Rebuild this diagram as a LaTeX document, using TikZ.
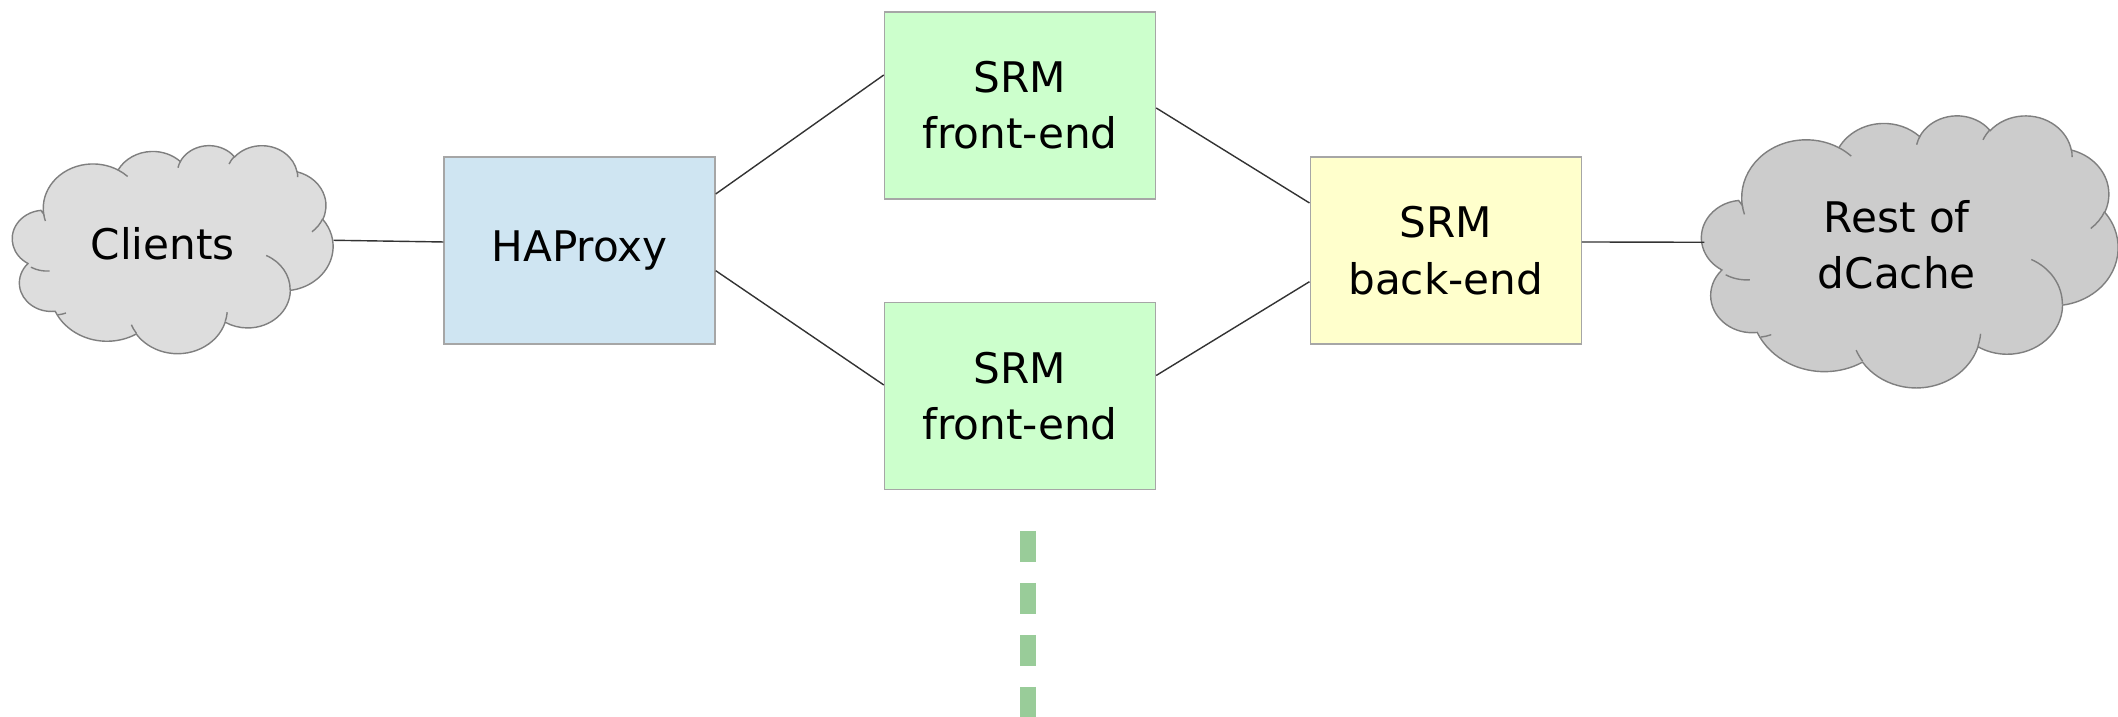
\documentclass[tikz,border=0pt]{standalone}
\usepackage{fontspec}
\setmainfont{DejaVu Sans}
\usepackage{tikz}
\usetikzlibrary{positioning}

\definecolor{proxyblue}{HTML}{CFE5F2}
\definecolor{frontgreen}{HTML}{CCFFCC}
\definecolor{backyellow}{HTML}{FFFFCC}
\definecolor{cloudlight}{HTML}{DDDDDD}
\definecolor{clouddark}{HTML}{CCCCCC}
\definecolor{cloudline}{HTML}{7F7F7F}
\definecolor{dashgreen}{HTML}{99CC99}

% elliptic arc given by radii, start angle and sweep (office style)
\newcommand\ooarc[4]{%
  \pgfmathsetmacro\oots{atan2((#1)*sin(#3),(#2)*cos(#3))}%
  \pgfmathsetmacro\oote{atan2((#1)*sin((#3)+(#4)),(#2)*cos((#3)+(#4)))}%
  \pgfmathsetmacro\ood{\oote-\oots}%
  \pgfmathsetmacro\ood{\ood+360*((#4)>0)*(\ood<=0)-360*((#4)<0)*(\ood>=0)}%
  \pgfmathsetmacro\ooe{\oots+\ood}%
  \pgfpatharc{\oots}{\ooe}{#1cm and #2cm}}
\newcommand\ooseg[6]{%
  \pgfpathmoveto{\pgfpointxy{#1}{#2}}\ooarc{#3}{#4}{#5}{#6}}

% cloud in a 43.2 x 43.2 box, y going down
\newcommand\cloudoutline{%
  \pgfpathmoveto{\pgfpointxy{3.9}{14.37}}%
  \ooarc{6.753}{9.190}{-190.4875}{123.7805}%
  \ooarc{5.333}{7.267}{-144.1024}{89.9452}%
  \ooarc{4.365}{5.945}{-145.8079}{99.7230}%
  \ooarc{4.857}{6.595}{-130.9861}{117.2417}%
  \ooarc{5.333}{7.273}{-78.7089}{109.0269}%
  \ooarc{6.775}{9.220}{-46.2673}{130.2690}%
  \ooarc{5.785}{7.867}{0.6250}{114.0333}%
  \ooarc{6.752}{9.215}{22.4516}{115.1726}%
  \ooarc{7.720}{10.543}{66.2426}{82.2745}%
  \ooarc{4.360}{5.918}{-274.9421}{146.7356}%
  \ooarc{4.345}{5.945}{-246.8285}{152.5189}%
  \pgfpathclose}
\newcommand\cloudcreases{%
  \ooseg{4.693}{26.177}{4.345}{5.945}{86.7420}{26.4295}%
  \ooseg{6.928}{34.899}{4.360}{5.918}{73.6105}{11.4475}%
  \ooseg{16.478}{39.090}{6.752}{9.215}{137.6242}{14.0811}%
  \ooseg{28.827}{34.751}{6.752}{9.215}{6.4533}{15.9984}%
  \ooseg{34.129}{22.954}{5.785}{7.867}{-70.2924}{70.9174}%
  \ooseg{41.798}{15.354}{5.333}{7.273}{30.3180}{27.7515}%
  \ooseg{38.324}{5.426}{4.857}{6.595}{-13.7443}{14.8589}%
  \ooseg{29.078}{3.952}{4.857}{6.595}{-149.1815}{18.1954}%
  \ooseg{22.141}{4.720}{4.365}{5.945}{-163.4943}{17.6864}%
  \ooseg{14.000}{5.192}{6.753}{9.190}{-66.7070}{12.3194}%
  \ooseg{4.127}{15.789}{6.753}{9.190}{157.6544}{11.8582}}
% \cloudshape{left}{top}{width}{height}{fill}
\newcommand\cloudshape[5]{%
  \begin{scope}[shift={(#1,#2)}, xscale=#3/43.2, yscale=-#4/43.2]
    \pgfsetfillcolor{#5}\pgfsetstrokecolor{cloudline}\pgfsetlinewidth{0.4pt}%
    \cloudoutline\pgfusepath{fill,stroke}%
    \cloudcreases\pgfusepath{stroke}%
  \end{scope}}

\begin{document}
\begin{tikzpicture}[
    box/.style={draw=black!35, minimum width=2.71cm, minimum height=1.87cm,
                align=center, font=\fontsize{12}{16}\selectfont},
    cloudbox/.style={inner sep=0pt, align=center, font=\fontsize{12}{16}\selectfont},
    link/.style={draw=black!80, line width=0.4pt}
]
\useasboundingbox (0,0) rectangle (21.18,7.17);

% clouds first, nodes on top
\cloudshape{0.15}{5.72}{3.18}{2.08}{cloudlight}
\cloudshape{17.05}{6.02}{4.13}{2.72}{clouddark}

\node[cloudbox, minimum width=3.18cm, minimum height=2.08cm,
      label={[cloudbox, xshift=-0.113cm, yshift=0.048cm]center:Clients}] (cl) at (1.74, 4.68) {};
\node[box, fill=proxyblue] (hap) at (5.795, 4.663) {HAProxy};
\node[box, fill=frontgreen] (fe1) at (10.20, 6.115) {SRM\\front-end};
\node[box, fill=frontgreen] (fe2) at (10.20, 3.21) {SRM\\front-end};
\node[box, fill=backyellow] (be) at (14.457, 4.663) {SRM\\back-end};
\node[cloudbox, minimum width=4.13cm, minimum height=2.72cm,
      label={[cloudbox, xshift=-0.147cm, yshift=0.063cm]center:Rest of\\dCache}] (rest) at (19.115, 4.66) {};

% connectors
\draw[link] ([yshift=0.087cm]cl.east) -- ([yshift=0.087cm]hap.west);
\draw[link] ([yshift=0.567cm]hap.east) -- ([yshift=0.305cm]fe1.west);
\draw[link] ([yshift=-0.2cm]hap.east) -- ([yshift=0.11cm]fe2.west);
\draw[link] ([yshift=-0.025cm]fe1.east) -- ([yshift=0.477cm]be.west);
\draw[link] ([yshift=0.205cm]fe2.east) -- ([yshift=-0.31cm]be.west);
\draw[link] ([yshift=0.087cm]be.east) -- ([yshift=0.087cm]rest.west);

% more front-ends below
\coordinate (more) at (10.277, 1.86);
\coordinate (down) at (10.277, 0);
\draw[dashgreen, line width=0.16cm, dash pattern=on 0.31cm off 0.21cm] (more) -- (down);
\end{tikzpicture}
\end{document}
